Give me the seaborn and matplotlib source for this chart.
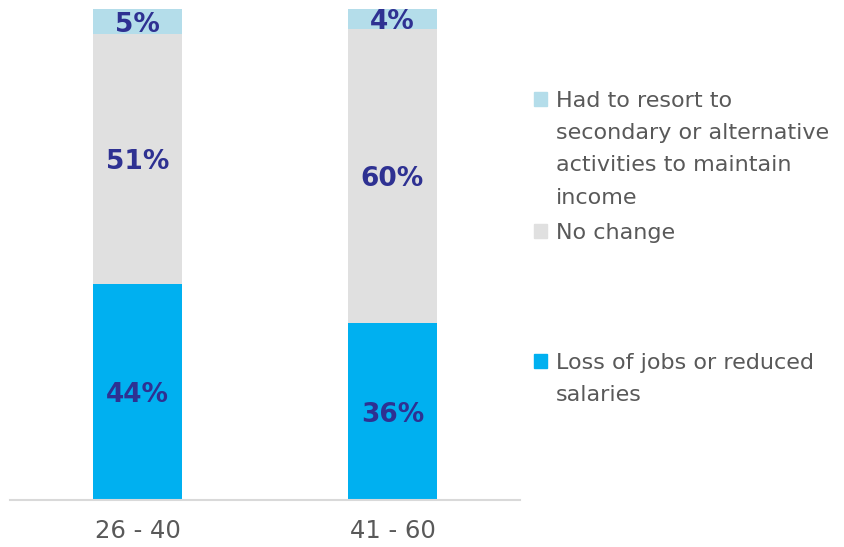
import pandas as pd
import matplotlib.pyplot as plt
import seaborn as sns
from matplotlib.patches import Patch

# ---------------------------------------------------------
# DATA
# ---------------------------------------------------------
age_groups = ['26 - 40', '41 - 60']
loss_jobs = [44, 36]
no_change = [51, 60]
secondary = [5, 4]

series_names = [
    'Had to resort to\nsecondary or alternative\nactivities to maintain\nincome',
    'No change',
    'Loss of jobs or reduced\nsalaries',
]
colors = ['#B4DDEA', '#E0E0E0', '#00B0F0']
label_color = '#2E3192'
text_grey = '#595959'

df = pd.DataFrame({'age': age_groups, 'loss': loss_jobs,
                   'same': no_change, 'second': secondary})
df['top_loss'] = df['loss']
df['top_same'] = df['loss'] + df['same']
df['top_second'] = df['top_same'] + df['second']

sns.set_style("white")
plt.rcParams['font.family'] = ['DejaVu Sans']

fig = plt.figure(figsize=(8.44, 5.47), dpi=100)
ax = fig.add_axes([10 / 844, 47 / 547, 510 / 844, 491 / 547])

# stacked bars: draw cumulative totals, biggest first
for col, c in zip(['top_second', 'top_same', 'top_loss'], colors):
    sns.barplot(data=df, x='age', y=col, color=c, width=0.35,
                saturation=1, ax=ax, edgecolor='none')

# value labels in the middle of each segment
for i in range(len(df)):
    segs = [(0, df['loss'][i]), (df['top_loss'][i], df['same'][i]),
            (df['top_same'][i], df['second'][i])]
    for base, val in segs:
        ax.text(i, base + val / 2 - 0.7, f'{val}%', ha='center', va='center',
                fontsize=19, fontweight='bold', color=label_color)

ax.set_xlim(-0.5, 1.5)
ax.set_ylim(0, 100)
ax.set_xlabel('')
ax.set_ylabel('')
ax.set_yticks([])
sns.despine(ax=ax, left=True)
ax.spines['bottom'].set_color('#D9D9D9')
ax.spines['bottom'].set_linewidth(1.5)
ax.tick_params(axis='x', length=0, pad=14, labelsize=17.5, labelcolor=text_grey)


# legend: one row per text line so the square sits on the first line
def legend_rows(name, c):
    hs, ls = [], []
    for k, line in enumerate(name.split('\n')):
        hs.append(Patch(color=c if k == 0 else 'none'))
        ls.append(line)
    return hs, ls


leg_kw = dict(loc='upper left', frameon=False, fontsize=16, labelcolor=text_grey,
              handlelength=0.6, handleheight=0.6, handletextpad=0.4,
              labelspacing=0.55, borderpad=0, borderaxespad=0)

legend_tops = [91, 223, 353]
for name, c, top in zip(series_names, colors, legend_tops):
    h, l = legend_rows(name, c)
    fig.legend(h, l, bbox_to_anchor=(534 / 844, 1 - top / 547), **leg_kw)

plt.savefig('out.png', dpi=100)
